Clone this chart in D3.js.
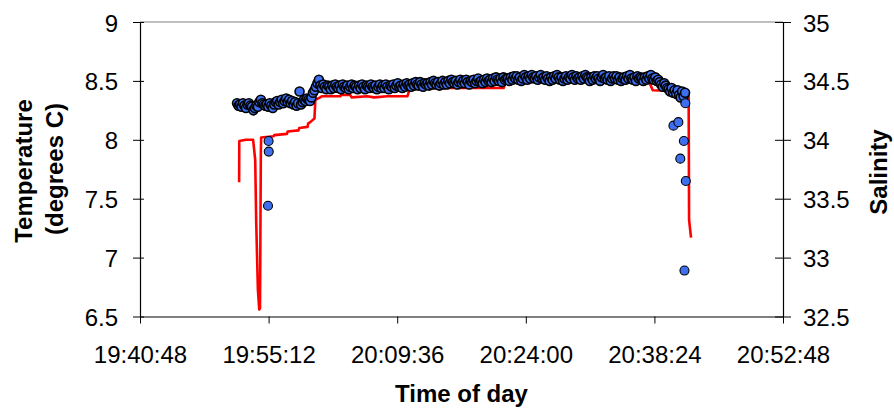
<!DOCTYPE html>
<html><head><meta charset="utf-8">
<script src="https://cdn.jsdelivr.net/npm/d3@7"></script>
<style>body{margin:0;background:#fff}svg{display:block}</style>
</head><body><svg id="c" width="894" height="412"></svg>
<script>
const xTickLabels = ["19:40:48","19:55:12","20:09:36","20:24:00","20:38:24","20:52:48"];
const tempTicks = [6.5,7,7.5,8,8.5,9];
const salTicks = [32.5,33,33.5,34,34.5,35];

// Temperature (red line, left axis)
const tempTime = ["19:51:54","19:51:55","19:52:40","19:53:28","19:53:42","19:53:49","19:54:00","19:54:09","19:54:14","19:54:16","19:54:18","19:54:20","19:54:22",
  "19:55:45","19:55:50","19:57:15","19:57:20","19:58:33","19:58:38","19:59:34","19:59:38","19:59:52","20:00:20","20:00:26","20:00:59","20:01:10",
  "20:03:14","20:03:20","20:04:21","20:04:30","20:06:15","20:07:00","20:08:30","20:10:45","20:11:00","20:14:27","20:15:00","20:18:56","20:19:10",
  "20:21:31","20:21:45","20:23:25","20:32:23","20:37:46","20:38:13","20:42:14","20:42:17","20:42:30"];
const tempValue = [7.64,7.99,8.00,8.00,7.83,7.29,6.73,6.56,6.57,6.95,7.45,7.90,8.02,
  8.03,8.04,8.05,8.07,8.08,8.10,8.11,8.14,8.15,8.18,8.34,8.36,8.37,
  8.37,8.38,8.38,8.36,8.37,8.36,8.37,8.37,8.43,8.44,8.44,8.44,8.44,
  8.44,8.49,8.50,8.51,8.50,8.42,8.41,7.32,7.17];

// Salinity (blue markers, right axis) - main record
const salTime = ["19:51:40","19:51:50",
  "19:52:00","19:52:10","19:52:20","19:52:30","19:52:40","19:52:50",
  "19:53:00","19:53:10","19:53:20","19:53:30","19:53:40","19:53:50",
  "19:54:00","19:54:10","19:54:20","19:54:30","19:54:40","19:54:50",
  "19:55:00","19:55:10","19:55:20","19:55:30","19:55:40","19:55:50",
  "19:56:00","19:56:10","19:56:20","19:56:30","19:56:40","19:56:50",
  "19:57:00","19:57:10","19:57:20","19:57:30","19:57:40","19:57:50",
  "19:58:00","19:58:10","19:58:20","19:58:30","19:58:40","19:58:50",
  "19:59:00","19:59:10","19:59:20","19:59:30","19:59:40","19:59:50",
  "20:00:00","20:00:10","20:00:20","20:00:30","20:00:40","20:00:50",
  "20:01:00","20:01:10","20:01:20","20:01:30","20:01:40","20:01:50",
  "20:02:00","20:02:10","20:02:20","20:02:30","20:02:40","20:02:50",
  "20:03:00","20:03:10","20:03:20","20:03:30","20:03:40","20:03:50",
  "20:04:00","20:04:10","20:04:20","20:04:30","20:04:40","20:04:50",
  "20:05:00","20:05:10","20:05:20","20:05:30","20:05:40","20:05:50",
  "20:06:00","20:06:10","20:06:20","20:06:30","20:06:40","20:06:50",
  "20:07:00","20:07:10","20:07:20","20:07:30","20:07:40","20:07:50",
  "20:08:00","20:08:10","20:08:20","20:08:30","20:08:40","20:08:50",
  "20:09:00","20:09:10","20:09:20","20:09:30","20:09:40","20:09:50",
  "20:10:00","20:10:10","20:10:20","20:10:30","20:10:40","20:10:50",
  "20:11:00","20:11:10","20:11:20","20:11:30","20:11:40","20:11:50",
  "20:12:00","20:12:10","20:12:20","20:12:30","20:12:40","20:12:50",
  "20:13:00","20:13:10","20:13:20","20:13:30","20:13:40","20:13:50",
  "20:14:00","20:14:10","20:14:20","20:14:30","20:14:40","20:14:50",
  "20:15:00","20:15:10","20:15:20","20:15:30","20:15:40","20:15:50",
  "20:16:00","20:16:10","20:16:20","20:16:30","20:16:40","20:16:50",
  "20:17:00","20:17:10","20:17:20","20:17:30","20:17:40","20:17:50",
  "20:18:00","20:18:10","20:18:20","20:18:30","20:18:40","20:18:50",
  "20:19:00","20:19:10","20:19:20","20:19:30","20:19:40","20:19:50",
  "20:20:00","20:20:10","20:20:20","20:20:30","20:20:40","20:20:50",
  "20:21:00","20:21:10","20:21:20","20:21:30","20:21:40","20:21:50",
  "20:22:00","20:22:10","20:22:20","20:22:30","20:22:40","20:22:50",
  "20:23:00","20:23:10","20:23:20","20:23:30","20:23:40","20:23:50",
  "20:24:00","20:24:10","20:24:20","20:24:30","20:24:40","20:24:50",
  "20:25:00","20:25:10","20:25:20","20:25:30","20:25:40","20:25:50",
  "20:26:00","20:26:10","20:26:20","20:26:30","20:26:40","20:26:50",
  "20:27:00","20:27:10","20:27:20","20:27:30","20:27:40","20:27:50",
  "20:28:00","20:28:10","20:28:20","20:28:30","20:28:40","20:28:50",
  "20:29:00","20:29:10","20:29:20","20:29:30","20:29:40","20:29:50",
  "20:30:00","20:30:10","20:30:20","20:30:30","20:30:40","20:30:50",
  "20:31:00","20:31:10","20:31:20","20:31:30","20:31:40","20:31:50",
  "20:32:00","20:32:10","20:32:20","20:32:30","20:32:40","20:32:50",
  "20:33:00","20:33:10","20:33:20","20:33:30","20:33:40","20:33:50",
  "20:34:00","20:34:10","20:34:20","20:34:30","20:34:40","20:34:50",
  "20:35:00","20:35:10","20:35:20","20:35:30","20:35:40","20:35:50",
  "20:36:00","20:36:10","20:36:20","20:36:30","20:36:40","20:36:50",
  "20:37:00","20:37:10","20:37:20","20:37:30","20:37:40","20:37:50",
  "20:38:00","20:38:10","20:38:20","20:38:30","20:38:40","20:38:50",
  "20:39:00","20:39:10","20:39:20","20:39:30","20:39:40","20:39:50",
  "20:40:00","20:40:10","20:40:20","20:40:30","20:40:40","20:40:50",
  "20:41:00","20:41:10","20:41:20","20:41:30","20:41:40","20:41:50"];
const salValue = [34.31,34.29,
  34.30,34.28,34.31,34.29,34.27,34.30,
  34.31,34.29,34.28,34.25,34.27,34.29,
  34.28,34.32,34.34,34.31,34.30,34.29,
  34.30,34.28,34.31,34.29,34.27,34.30,
  34.32,34.33,34.30,34.32,34.34,34.31,
  34.33,34.35,34.32,34.34,34.31,34.33,
  34.30,34.32,34.29,34.31,34.41,34.30,
  34.32,34.34,34.33,34.35,34.34,34.33,
  34.36,34.40,34.42,34.45,34.48,34.51,
  34.46,34.44,34.47,34.45,34.43,34.46,
  34.45,34.43,34.46,34.44,34.47,34.45,
  34.44,34.46,34.43,34.47,34.45,34.44,
  34.46,34.43,34.45,34.47,34.44,34.46,
  34.45,34.43,34.46,34.44,34.47,34.45,
  34.43,34.46,34.45,34.44,34.47,34.45,
  34.44,34.46,34.43,34.45,34.47,34.44,
  34.46,34.44,34.47,34.45,34.43,34.46,
  34.45,34.47,34.44,34.46,34.48,34.45,
  34.46,34.44,34.47,34.45,34.48,34.46,
  34.47,34.45,34.48,34.46,34.49,34.47,
  34.46,34.49,34.47,34.45,34.48,34.47,
  34.48,34.46,34.49,34.47,34.50,34.48,
  34.47,34.49,34.46,34.48,34.50,34.47,
  34.49,34.47,34.50,34.48,34.51,34.49,
  34.48,34.50,34.47,34.49,34.51,34.48,
  34.50,34.48,34.51,34.49,34.47,34.50,
  34.49,34.51,34.48,34.50,34.52,34.49,
  34.50,34.48,34.51,34.49,34.52,34.50,
  34.51,34.49,34.52,34.50,34.53,34.51,
  34.50,34.52,34.49,34.53,34.51,34.52,
  34.52,34.50,34.53,34.51,34.54,34.52,
  34.54,34.51,34.53,34.50,34.52,34.55,
  34.53,34.51,34.54,34.52,34.55,34.53,
  34.52,34.54,34.51,34.53,34.55,34.52,
  34.53,34.51,34.54,34.52,34.50,34.53,
  34.51,34.54,34.52,34.55,34.53,34.51,
  34.53,34.50,34.52,34.54,34.51,34.53,
  34.52,34.55,34.53,34.51,34.54,34.52,
  34.53,34.51,34.54,34.52,34.55,34.53,
  34.52,34.50,34.53,34.51,34.54,34.52,
  34.54,34.52,34.50,34.53,34.55,34.52,
  34.53,34.51,34.54,34.50,34.52,34.54,
  34.52,34.54,34.51,34.53,34.50,34.52,
  34.53,34.51,34.54,34.52,34.55,34.52,
  34.51,34.53,34.50,34.54,34.52,34.53,
  34.52,34.50,34.53,34.51,34.54,34.52,
  34.55,34.52,34.51,34.53,34.50,34.51,
  34.49,34.47,34.45,34.48,34.46,34.44,
  34.43,34.41,34.44,34.40,34.42,34.39,
  34.42,34.38,34.36,34.41,34.37,34.40];

// Salinity - scattered readings during the up/down casts
const salOutTime = ["19:55:08","19:55:12","19:55:13","20:40:32","20:41:05","20:41:18","20:41:42","20:41:46","20:41:52","20:41:55"];
const salOutValue = [33.44,33.99,33.90,34.12,34.15,33.84,33.99,32.89,34.31,33.65];

const FONT = "'Liberation Sans', Arial, sans-serif";
const L = 140, R = 783, T = 22, B = 316.5;
const parse = d3.timeParse("%H:%M:%S");
const x = d3.scaleTime().domain([parse(xTickLabels[0]), parse(xTickLabels[xTickLabels.length-1])]).range([L, R]);
const yT = d3.scaleLinear().domain([6.5, 9]).range([B, T]);
const yS = d3.scaleLinear().domain([32.5, 35]).range([B, T]);

const svg = d3.select("#c");
svg.append("rect").attr("width", 894).attr("height", 412).attr("fill", "#fff");

// top border
svg.append("line").attr("x1", L).attr("x2", R).attr("y1", T).attr("y2", T)
  .attr("stroke", "#808080").attr("stroke-width", 1);

// Temperature line
const tData = tempTime.map((t, i) => ({t: parse(t), v: tempValue[i]}));
svg.append("path").datum(tData)
  .attr("d", d3.line().x(d => x(d.t)).y(d => yT(d.v)))
  .attr("fill", "none").attr("stroke", "#ff0000").attr("stroke-width", 2.6)
  .attr("stroke-linejoin", "round");

// Salinity markers
const mainData = salTime.map((t, i) => ({t: parse(t), v: salValue[i]}));
const outData = salOutTime.map((t, i) => ({t: parse(t), v: salOutValue[i]}));
svg.append("g").selectAll("circle").data(mainData).join("circle")
  .attr("cx", d => x(d.t)).attr("cy", d => yS(d.v)).attr("r", 4.5)
  .attr("fill", "#3d6ff0").attr("stroke", "#000").attr("stroke-width", 1.6);
svg.append("g").selectAll("circle").data(outData).join("circle")
  .attr("cx", d => x(d.t)).attr("cy", d => yS(d.v)).attr("r", 4.5)
  .attr("fill", "#3d6ff0").attr("stroke", "#000").attr("stroke-width", 1.1);

// X axis
const gx = svg.append("g").attr("transform", `translate(0,${B})`)
  .call(d3.axisBottom(x).tickValues(xTickLabels.map(parse))
    .tickFormat(d3.timeFormat("%H:%M:%S")).tickSize(7).tickSizeOuter(0));
gx.select(".domain").attr("stroke", "#000");
gx.selectAll("line").attr("stroke", "#000");
gx.selectAll("text").attr("y", 46).attr("dy", 0)
  .attr("font-family", FONT).attr("font-size", 24).attr("fill", "#000");

// Left axis
const gl = svg.append("g").attr("transform", `translate(${L},0)`)
  .call(d3.axisLeft(yT).tickValues(tempTicks).tickFormat(d => d).tickSize(7).tickSizeOuter(0));
gl.select(".domain").attr("stroke", "#000");
gl.selectAll(".tick line").attr("x1", 4).attr("x2", -7).attr("stroke", "#000");
gl.selectAll("text").attr("x", -22).attr("dy", 9)
  .attr("font-family", FONT).attr("font-size", 24).attr("fill", "#000");

// Right axis
const gr = svg.append("g").attr("transform", `translate(${R},0)`)
  .call(d3.axisRight(yS).tickValues(salTicks).tickFormat(d => d).tickSize(8).tickSizeOuter(0));
gr.select(".domain").attr("stroke", "#000");
gr.selectAll(".tick line").attr("x1", -8).attr("x2", 8).attr("stroke", "#000");
gr.selectAll("text").attr("x", 20).attr("dy", 9)
  .attr("font-family", FONT).attr("font-size", 24).attr("fill", "#000");

svg.selectAll(".domain").attr("stroke-width", 1.2);

// Titles
svg.append("text").attr("x", (L + R) / 2).attr("y", 402).attr("text-anchor", "middle")
  .attr("font-family", FONT).attr("font-size", 24).attr("font-weight", "bold").text("Time of day");
svg.append("text").attr("transform", "translate(31.5,171) rotate(-90)").attr("text-anchor", "middle")
  .attr("font-family", FONT).attr("font-size", 24).attr("font-weight", "bold").text("Temperature");
svg.append("text").attr("transform", "translate(63,169) rotate(-90)").attr("text-anchor", "middle")
  .attr("font-family", FONT).attr("font-size", 24).attr("font-weight", "bold").text("(degrees C)");
svg.append("text").attr("transform", "translate(886.5,172) rotate(-90)").attr("text-anchor", "middle")
  .attr("font-family", FONT).attr("font-size", 24).attr("font-weight", "bold").text("Salinity");
</script></body></html>
